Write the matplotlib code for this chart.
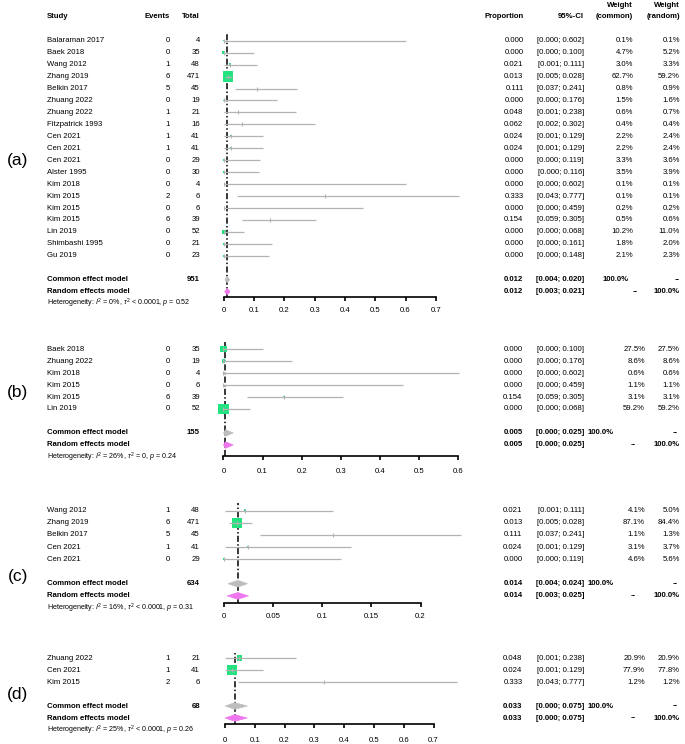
import numpy as np
import matplotlib
matplotlib.use("Agg")
import matplotlib.pyplot as plt
from matplotlib import transforms
from matplotlib.patches import Polygon

plt.rcParams['font.family'] = ['Liberation Sans', 'DejaVu Sans']
plt.rcParams['mathtext.fontset'] = 'custom'
plt.rcParams['mathtext.rm'] = 'Liberation Sans'
plt.rcParams['mathtext.it'] = 'Liberation Sans:italic'
plt.rcParams['mathtext.bf'] = 'Liberation Sans:bold'

# ---- panel (a) ----
studies_a = ["Balaraman 2017", "Baek 2018", "Wang 2012", "Zhang 2019", "Belkin 2017",
             "Zhuang 2022", "Zhuang 2022", "Fitzpatrick 1993", "Cen 2021", "Cen 2021",
             "Cen 2021", "Alster 1995", "Kim 2018", "Kim 2015", "Kim 2015", "Kim 2015",
             "Lin 2019", "Shimbashi 1995", "Gu 2019"]
events_a = [0, 0, 1, 6, 5, 0, 1, 1, 1, 1, 0, 0, 0, 2, 0, 6, 0, 0, 0]
total_a = [4, 35, 48, 471, 45, 19, 21, 16, 41, 41, 29, 30, 4, 6, 6, 39, 52, 21, 23]
prop_a = [0.000, 0.000, 0.021, 0.013, 0.111, 0.000, 0.048, 0.062, 0.024, 0.024,
          0.000, 0.000, 0.000, 0.333, 0.000, 0.154, 0.000, 0.000, 0.000]
lo_a = [0.000, 0.000, 0.001, 0.005, 0.037, 0.000, 0.001, 0.002, 0.001, 0.001,
        0.000, 0.000, 0.000, 0.043, 0.000, 0.059, 0.000, 0.000, 0.000]
hi_a = [0.602, 0.100, 0.111, 0.028, 0.241, 0.176, 0.238, 0.302, 0.129, 0.129,
        0.119, 0.116, 0.602, 0.777, 0.459, 0.305, 0.068, 0.161, 0.148]
wc_a = [0.1, 4.7, 3.0, 62.7, 0.8, 1.5, 0.6, 0.4, 2.2, 2.2, 3.3, 3.5, 0.1, 0.1, 0.2, 0.5, 10.2, 1.8, 2.1]
wr_a = [0.1, 5.2, 3.3, 59.2, 0.9, 1.6, 0.7, 0.4, 2.4, 2.4, 3.6, 3.9, 0.1, 0.1, 0.2, 0.6, 11.0, 2.0, 2.3]
common_a = [0.012, 0.004, 0.020]
random_a = [0.012, 0.003, 0.021]
n_a = 951
het_a = r"Heterogeneity: $I^2$ = 0%, $\tau^2$ < 0.0001, $p$ = 0.52"

# ---- panel (b) ----
studies_b = ["Baek 2018", "Zhuang 2022", "Kim 2018", "Kim 2015", "Kim 2015", "Lin 2019"]
events_b = [0, 0, 0, 0, 6, 0]
total_b = [35, 19, 4, 6, 39, 52]
prop_b = [0.000, 0.000, 0.000, 0.000, 0.154, 0.000]
lo_b = [0.000, 0.000, 0.000, 0.000, 0.059, 0.000]
hi_b = [0.100, 0.176, 0.602, 0.459, 0.305, 0.068]
wc_b = [27.5, 8.6, 0.6, 1.1, 3.1, 59.2]
wr_b = [27.5, 8.6, 0.6, 1.1, 3.1, 59.2]
common_b = [0.005, 0.000, 0.025]
random_b = [0.005, 0.000, 0.025]
n_b = 155
het_b = r"Heterogeneity: $I^2$ = 26%, $\tau^2$ = 0, $p$ = 0.24"

# ---- panel (c) ----
studies_c = ["Wang 2012", "Zhang 2019", "Belkin 2017", "Cen 2021", "Cen 2021"]
events_c = [1, 6, 5, 1, 0]
total_c = [48, 471, 45, 41, 29]
prop_c = [0.021, 0.013, 0.111, 0.024, 0.000]
lo_c = [0.001, 0.005, 0.037, 0.001, 0.000]
hi_c = [0.111, 0.028, 0.241, 0.129, 0.119]
wc_c = [4.1, 87.1, 1.1, 3.1, 4.6]
wr_c = [5.0, 84.4, 1.3, 3.7, 5.6]
common_c = [0.014, 0.004, 0.024]
random_c = [0.014, 0.003, 0.025]
n_c = 634
het_c = r"Heterogeneity: $I^2$ = 16%, $\tau^2$ < 0.0001, $p$ = 0.31"

# ---- panel (d) ----
studies_d = ["Zhuang 2022", "Cen 2021", "Kim 2015"]
events_d = [1, 1, 2]
total_d = [21, 41, 6]
prop_d = [0.048, 0.024, 0.333]
lo_d = [0.001, 0.001, 0.043]
hi_d = [0.238, 0.129, 0.777]
wc_d = [20.9, 77.9, 1.2]
wr_d = [20.9, 77.8, 1.2]
common_d = [0.033, 0.000, 0.075]
random_d = [0.033, 0.000, 0.075]
n_d = 68
het_d = r"Heterogeneity: $I^2$ = 25%, $\tau^2$ < 0.0001, $p$ = 0.26"

W, H = 685, 744
GREEN = '#22e37f'
CI_GRAY = '#b3b3b3'
DIA_GRAY = '#bdbdbd'
PINK = '#ee77ee'
FS = 5.6

fig = plt.figure(figsize=(W / 100, H / 100), dpi=100)


def fx(px):
    return px / W


def fy(py):
    return 1 - py / H


# column positions (pixels) - panel (a) differs slightly from the others
cols_a = dict(events=170, total=200, prop=523.5, ci=584, wc=633, wr=680,
              wc_bold=629, wr_bold=680, dash_wc=635, dash_wr=677)
cols_bd = dict(events=170, total=200, prop=522.5, ci=584, wc=645, wr=680,
               wc_bold=614, wr_bold=680, dash_wc=633, dash_wr=675.5)


def draw_panel(label, studies, events, total, prop, lo, hi, wc, wr, comm, rand, n_tot, het,
               y0, dy, axis_y, x0, px_unit, tick_max, tick_step, tick_pad, label_y, cols):
    n = len(studies)
    xr = max(max(hi), tick_max) * 1.02
    top = y0 - 0.6 * dy
    ax = fig.add_axes([fx(x0), fy(axis_y), px_unit * xr / W, (axis_y - top) / H])
    ax.set_xlim(0, xr)
    ax.set_ylim((axis_y - y0) / dy, -0.6)
    rows = np.arange(n)

    # reference line at the common effect estimate
    ax.axvline(comm[0], color='black', lw=1.1, ls=(0, (4, 1.5, 1, 1.5)), zorder=1)

    # study squares, CIs and estimate ticks
    side = 7.3 * np.sqrt(np.array(wc) / max(wc))
    ax.scatter(prop, rows, marker='s', s=side ** 2, color=GREEN, linewidths=0,
               zorder=2, clip_on=False)
    ax.hlines(rows, lo, hi, color=CI_GRAY, lw=0.9, zorder=3, clip_on=False)
    ax.scatter(prop, rows, marker='|', s=10, color=CI_GRAY, linewidths=0.8,
               zorder=4, clip_on=False)

    # pooled diamonds
    h = 0.28
    for (est, l, u), row, col in [(comm, n + 1, DIA_GRAY), (rand, n + 2, PINK)]:
        ax.add_patch(Polygon([(l, row), (est, row - h), (u, row), (est, row + h)],
                             closed=True, fc=col, ec=col, lw=0.4, zorder=4, clip_on=False))

    for s in ['top', 'right', 'left']:
        ax.spines[s].set_visible(False)
    ax.spines['bottom'].set_bounds(0, tick_max)
    ax.spines['bottom'].set_linewidth(1.2)
    ticks = np.arange(0, tick_max + 1e-9, tick_step)
    ax.set_xticks(ticks)
    ax.set_xticklabels([f"{t:g}" for t in ticks])
    ax.tick_params(axis='x', direction='out', length=3, width=1.2, labelsize=FS,
                   pad=tick_pad, colors='black')
    ax.set_yticks([])
    ax.patch.set_visible(False)

    tr = transforms.blended_transform_factory(fig.transFigure, ax.transData)

    def t(x, row, s, ha='right', bold=False, size=FS):
        ax.text(fx(x), row, s, transform=tr, ha=ha, va='center', fontsize=size,
                fontweight='bold' if bold else 'normal', clip_on=False)

    for i in range(n):
        t(47, i, studies[i], ha='left')
        t(cols['events'], i, str(events[i]))
        t(cols['total'], i, str(total[i]))
        t(cols['prop'], i, f"{prop[i]:.3f}")
        t(cols['ci'], i, f"[{lo[i]:.3f}; {hi[i]:.3f}]")
        t(cols['wc'], i, f"{wc[i]:.1f}%")
        t(cols['wr'], i, f"{wr[i]:.1f}%")

    rc, rr = n + 1, n + 2
    t(47, rc, "Common effect model", ha='left', bold=True)
    t(cols['total'], rc, str(n_tot), bold=True)
    t(cols['prop'], rc, f"{comm[0]:.3f}", bold=True)
    t(cols['ci'], rc, f"[{comm[1]:.3f}; {comm[2]:.3f}]", bold=True)
    t(cols['wc_bold'], rc, "100.0%", bold=True)
    t(cols['dash_wr'], rc, "--", ha='center', bold=True)

    t(47, rr, "Random effects model", ha='left', bold=True)
    t(cols['prop'], rr, f"{rand[0]:.3f}", bold=True)
    t(cols['ci'], rr, f"[{rand[1]:.3f}; {rand[2]:.3f}]", bold=True)
    t(cols['dash_wc'], rr, "--", ha='center', bold=True)
    t(cols['wr_bold'], rr, "100.0%", bold=True)

    t(47, n + 3, het, ha='left', size=5.1)

    fig.text(fx(18), fy(label_y), label, fontsize=12.5, ha='center', va='center')
    return ax


draw_panel("(a)", studies_a, events_a, total_a, prop_a, lo_a, hi_a, wc_a, wr_a,
           common_a, random_a, n_a, het_a,
           y0=40.7, dy=11.95, axis_y=297.3, x0=223.7, px_unit=303, tick_max=0.7,
           tick_step=0.1, tick_pad=3.8, label_y=161, cols=cols_a)
draw_panel("(b)", studies_b, events_b, total_b, prop_b, lo_b, hi_b, wc_b, wr_b,
           common_b, random_b, n_b, het_b,
           y0=349, dy=12, axis_y=456, x0=223.5, px_unit=391, tick_max=0.6,
           tick_step=0.1, tick_pad=5.5, label_y=392, cols=cols_bd)
draw_panel("(c)", studies_c, events_c, total_c, prop_c, lo_c, hi_c, wc_c, wr_c,
           common_c, random_c, n_c, het_c,
           y0=510.5, dy=12.2, axis_y=603, x0=224, px_unit=983, tick_max=0.2,
           tick_step=0.05, tick_pad=4.5, label_y=577, cols=cols_bd)
draw_panel("(d)", studies_d, events_d, total_d, prop_d, lo_d, hi_d, wc_d, wr_d,
           common_d, random_d, n_d, het_d,
           y0=658, dy=12, axis_y=724, x0=225, px_unit=298, tick_max=0.7,
           tick_step=0.1, tick_pad=6.5, label_y=694, cols=cols_bd)

# column headers (top panel only)
hdr = dict(fontsize=FS, fontweight='bold', va='center')
fig.text(fx(47), fy(16.7), "Study", ha='left', **hdr)
fig.text(fx(169.5), fy(16.7), "Events", ha='right', **hdr)
fig.text(fx(200), fy(16.7), "Total", ha='right', **hdr)
fig.text(fx(524), fy(16.7), "Proportion", ha='right', **hdr)
fig.text(fx(584), fy(16.7), "95%-CI", ha='right', **hdr)
fig.text(fx(633), fy(5.7), "Weight", ha='right', **hdr)
fig.text(fx(633), fy(16.7), "(common)", ha='right', **hdr)
fig.text(fx(680), fy(5.7), "Weight", ha='right', **hdr)
fig.text(fx(680), fy(16.7), "(random)", ha='right', **hdr)

fig.savefig("out.png", dpi=100, facecolor='white')
